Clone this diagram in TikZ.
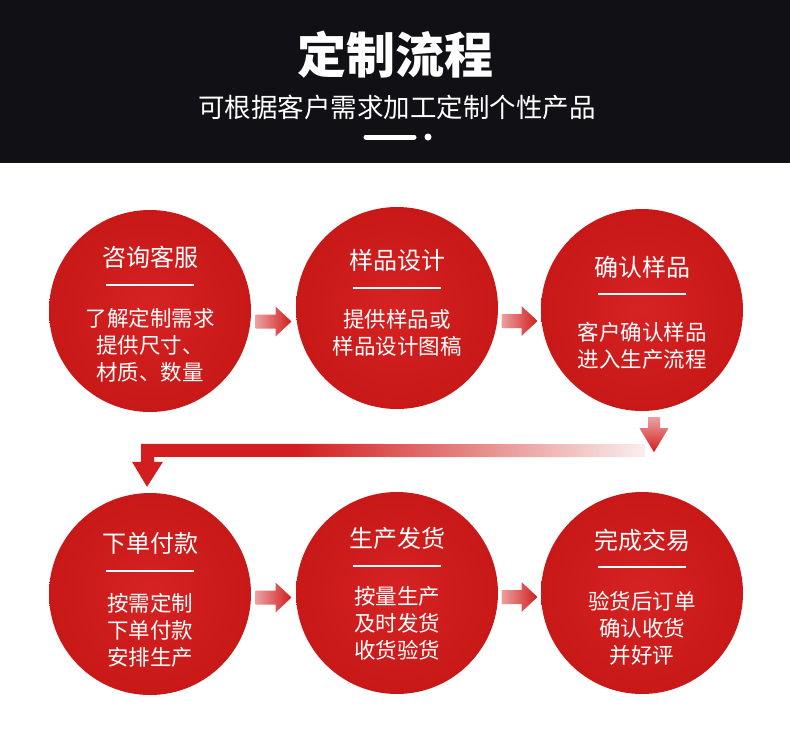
\documentclass[tikz,border=0pt]{standalone}
\usepackage{fontspec}
\newfontfamily\cjk{Noto Sans CJK SC}
\usetikzlibrary{calc, positioning}
\definecolor{headbg}{RGB}{17,16,20}
\definecolor{cred}{RGB}{210,30,30}
\definecolor{credin}{RGB}{214,34,34}
\definecolor{credout}{RGB}{200,24,24}
\definecolor{cpink}{RGB}{236,160,160}
\definecolor{cfade}{RGB}{250,238,238}
\pgfdeclarehorizontalshading{bandfade}{100bp}{color(0bp)=(cred); color(25bp)=(cred);
  color(41bp)=(cred); color(75bp)=(cfade); color(100bp)=(cfade)}
\tikzset{
  stepcircle/.style={circle, minimum size=202pt, inner sep=0pt, draw=none,
    inner color=credin, outer color=credout},
  steptitle/.style={text=white, inner sep=0pt, font=\cjk\fontsize{24}{28}\selectfont},
  stepbody/.style={text=white, inner sep=0pt, align=center, font=\cjk\fontsize{21.5}{27}\selectfont},
  stepsep/.style={white, line width=1.2pt},
  rarrow/.pic={
    \shade[left color=cpink, right color=cred]
      (-18,-7) -- (2,-7) -- (2,-15) -- (18,0) -- (2,15) -- (2,7) -- (-18,7) -- cycle;
  }
}

\begin{document}
\begin{tikzpicture}[x=1pt, y=-1pt]
    \useasboundingbox (0,0) rectangle (790,734);
    \fill[white] (0,0) rectangle (790,734);

    % header
    \fill[headbg] (0,0) rectangle (790,163);
    \node[text=white, font=\cjk\bfseries\fontsize{49}{53}\selectfont] (title) at (395,55) {定制流程};
    \node[text=white, font=\cjk\fontsize{26.5}{30}\selectfont] (subtitle) at (397,107) {可根据客户需求加工定制个性产品};
    \draw[white, line width=5pt, line cap=round] (366,137) -- (414,137);
    \fill[white] (428,137) circle (3.5);

    % steps
    \foreach \n/\cx/\cy/\ty/\ly/\by/\ttl/\txt in {
        1/150/311/257/285/345/咨询客服/{了解定制需求\\提供尺寸、\\材质、数量},
        2/397/308/260/288/333/样品设计/{提供样品或\\样品设计图稿},
        3/642/310/267/294/346/确认样品/{客户确认样品\\进入生产流程},
        4/150/594/543/571/630/下单付款/{按需定制\\下单付款\\安排生产},
        5/397/593/538/566/623/生产发货/{按量生产\\及时发货\\收货验货},
        6/642/593/540/567/628/完成交易/{验货后订单\\确认收货\\并好评}}{
        \node[stepcircle] (c\n) at (\cx,\cy) {};
        \node[steptitle] (t\n) at (\cx,\ty) {\ttl};
        \draw[stepsep] (\cx-44,\ly) -- (\cx+44,\ly);
        \node[stepbody] (b\n) at (\cx,\by) {\txt};
    }

    % arrows between steps
    \pic at ($(c1.east)!0.5!(c2.west)+(0,12)$) {rarrow};
    \pic at ($(c2.east)!0.5!(c3.west)+(0,12)$) {rarrow};
    \pic at ($(c4.east)!0.5!(c5.west)+(0,4)$) {rarrow};
    \pic at ($(c5.east)!0.5!(c6.west)+(0,4)$) {rarrow};

    % return connector
    \coordinate (dn) at ($(c3.south)+(12,6)$);
    \coordinate (tip) at ($(c4.north)+(-3,-6)$);
    \shade[shading=bandfade] (tip) -- ++(-15,-25) -- ++(9,0) -- ++(0,-18)
        -- ($(dn)+(-9,27)$) -- ($(dn)+(-9,40)$)
        -- ($(tip)+(7,-30)$) -- ++(0,5) -- ++(9,0) -- cycle;
    \shade[shift={(dn)}, top color=cpink, bottom color=cred]
        (-6,0) -- (6,0) -- (6,11) -- (14.5,11) -- (0,35) -- (-14.5,11) -- (-6,11) -- cycle;
\end{tikzpicture}
\end{document}
